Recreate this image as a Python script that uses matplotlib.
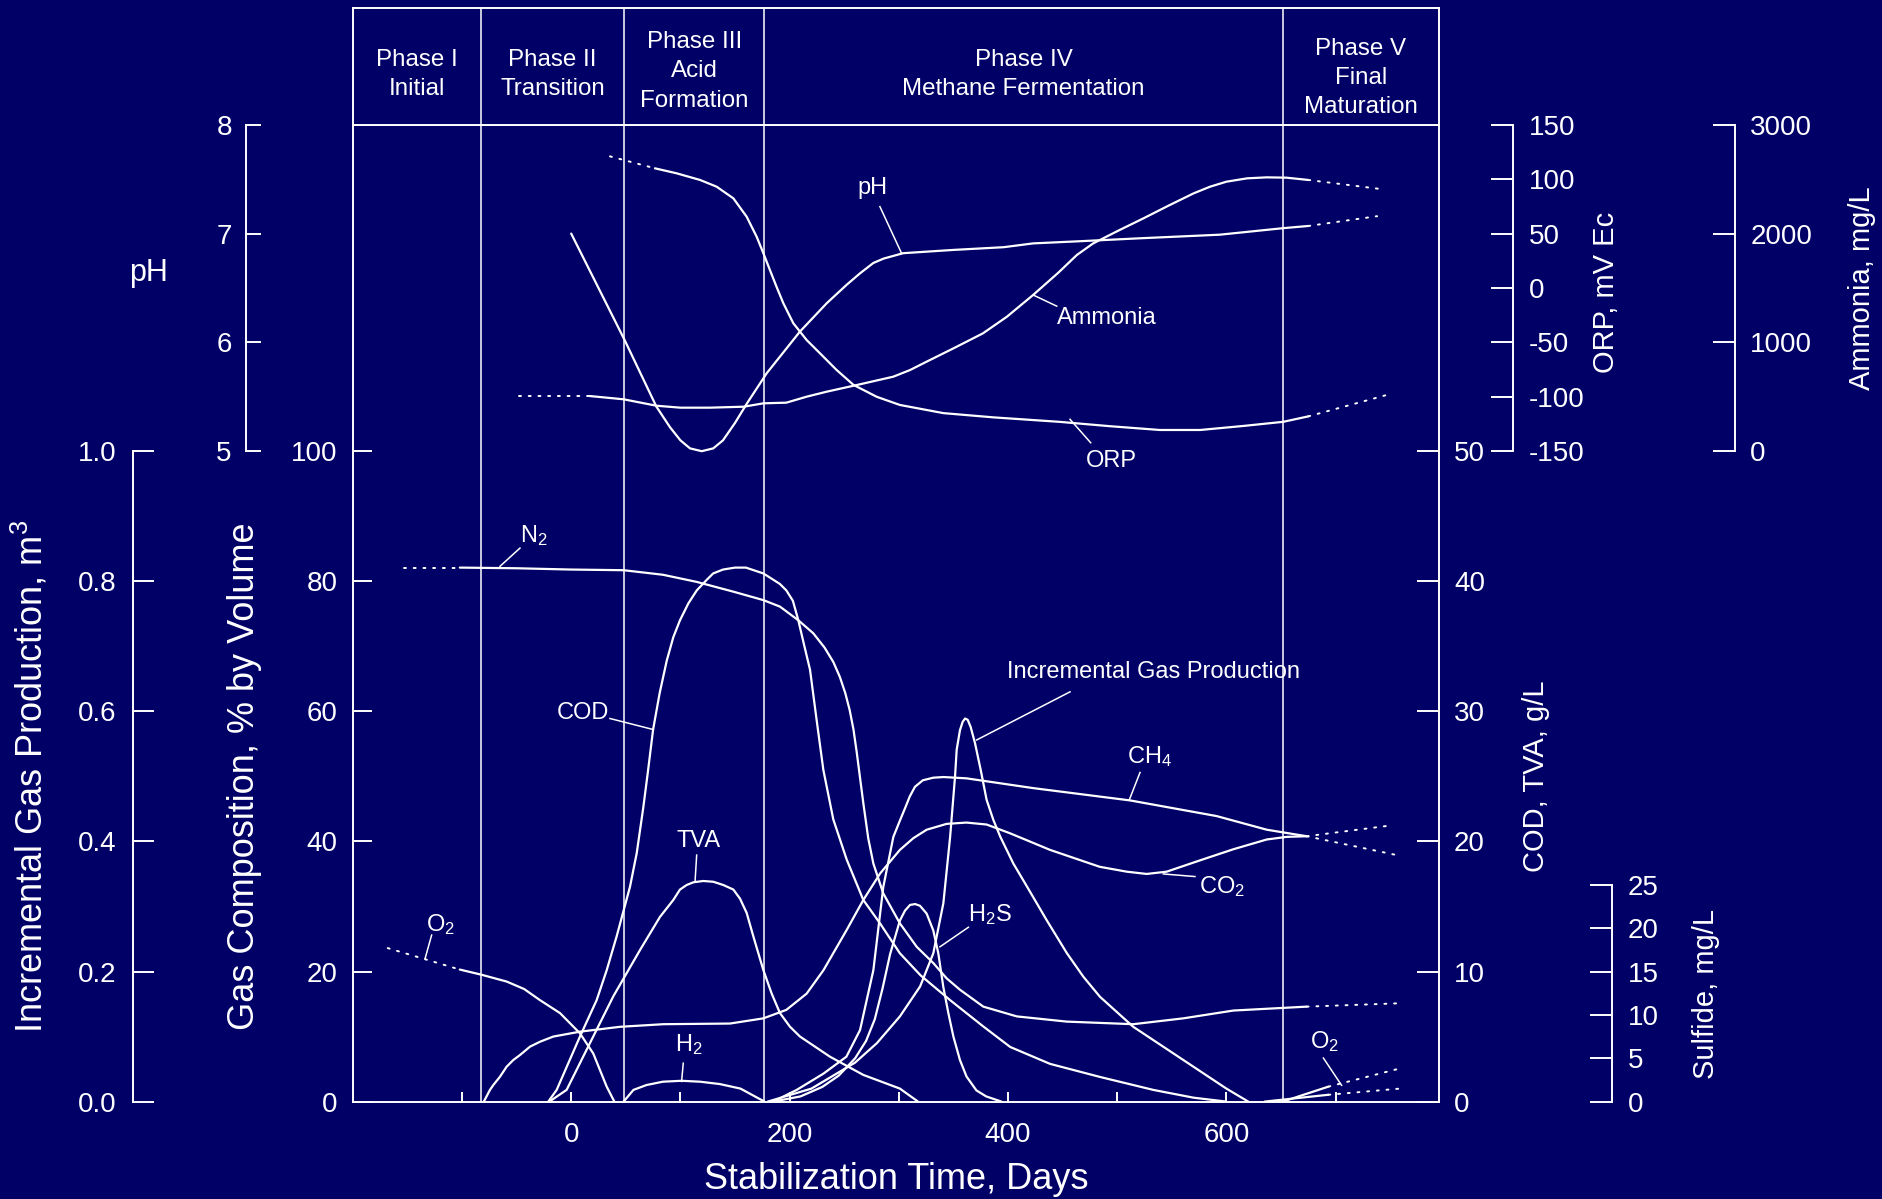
import matplotlib
matplotlib.use("Agg")
import matplotlib.pyplot as plt

plt.rcParams['font.family'] = ['Liberation Sans', 'DejaVu Sans']
plt.rcParams['mathtext.fontset'] = 'custom'
plt.rcParams['mathtext.rm'] = 'Liberation Sans'
plt.rcParams['mathtext.it'] = 'Liberation Sans:italic'
plt.rcParams['mathtext.bf'] = 'Liberation Sans:bold'
plt.rcParams['mathtext.sf'] = 'Liberation Sans'

# ---------------- data ----------------
phase_bounds = [-82.4, 48.4, 176.9, 651.6]
phase_labels = ["Phase I\nInitial", "Phase II\nTransition", "Phase III\nAcid\nFormation",
                "Phase IV\nMethane Fermentation", "Phase V\nFinal\nMaturation"]

x_ticks = [-100, 0, 100, 200, 300, 400, 500, 600, 700]
x_ticklabels = ["", "0", "", "200", "", "400", "", "600", ""]

gas_ticks = [0, 20, 40, 60, 80, 100]
incgas_ticks = [0.0, 0.2, 0.4, 0.6, 0.8, 1.0]
ph_ticks = [5, 6, 7, 8]
cod_ticks = [0, 10, 20, 30, 40, 50]
orp_ticks = [-150, -100, -50, 0, 50, 100, 150]
amm_ticks = [0, 1000, 2000, 3000]
sulf_ticks = [0, 5, 10, 15, 20, 25]

# pH (pH units)
ph_days = [0, 49, 78, 90.5, 100, 108.8, 119.5, 130.1, 139, 150, 161, 179, 209.5, 234, 252.3,
           264.5, 276.7, 286, 304, 350, 396, 423, 466, 521, 594, 652, 675]
ph_vals = [7.0, 6.02, 5.41, 5.22, 5.10, 5.026, 5.0, 5.026, 5.10, 5.26, 5.44, 5.716, 6.10, 6.36,
           6.53, 6.635, 6.73, 6.77, 6.82, 6.85, 6.875, 6.91, 6.93, 6.957, 6.99, 7.05, 7.07]
ph_ext_days = [675, 738]
ph_ext_vals = [7.07, 7.16]

# Ammonia (mg/L)
amm_pre_days = [-48, 17]
amm_pre_vals = [507, 507]
amm_days = [17, 48, 78, 100, 127, 158, 176, 197, 215.6, 234, 264.5, 295, 310.3, 325.5, 350, 377,
            399, 423, 446, 463, 478, 501, 524, 547, 570, 585, 600, 619, 637, 655, 675]
amm_vals = [507, 477, 418, 400, 400, 409, 440, 446, 501, 547, 615, 685, 746, 823, 945, 1083,
            1236, 1436, 1640, 1803, 1910, 2027, 2140, 2257, 2370, 2431, 2477, 2508, 2517, 2514,
            2493]
amm_ext_days = [675, 741]
amm_ext_vals = [2493, 2410]

# ORP (mV)
orp_pre_days = [35.5, 76.7]
orp_pre_vals = [121, 110]
orp_days = [76.7, 96.6, 118, 133.2, 148.5, 160.7, 169.8, 176, 182, 188, 194.3, 203.4, 215.6,
            227.8, 243, 258.4, 279.8, 301, 340.8, 386.6, 447, 493, 539, 576, 615.5, 652, 675]
orp_vals = [110, 105.4, 99.3, 93.1, 82.4, 65.5, 47.2, 31.9, 16.5, 1.2, -14.1, -32.4, -47.8,
            -60, -75.3, -89, -100, -107.5, -115, -118.9, -123, -127, -130.5, -130.5, -126.8,
            -123, -118]
orp_ext_days = [675, 748]
orp_ext_vals = [-118, -98]

# N2 (% by volume)
n2_pre_days = [-153, -102]
n2_pre_vals = [82.1, 82.1]
n2_days = [-102, -50, 0, 48, 84, 115, 148.5, 176, 191.2, 208, 221.7, 232, 240, 246, 251, 255,
           258.5, 261.4, 267.5, 272, 276.7, 285.8, 301, 316.4, 331.6, 343.8, 356, 377.4, 408,
           453.7, 514.7, 560.5, 606.4, 673.5]
n2_vals = [82.1, 82.0, 81.8, 81.7, 81.0, 79.9, 78.4, 77.1, 76.1, 74.0, 72.0, 69.8, 67.6, 65.3,
           62.8, 60.2, 57.2, 53.8, 45.9, 40.5, 36.6, 32.0, 27.4, 23.8, 21.3, 18.95, 17.2, 14.6,
           13.1, 12.3, 11.9, 12.8, 14.0, 14.6]
n2_ext_days = [673.5, 756]
n2_ext_vals = [14.6, 15.1]

# O2 (% by volume), early
o2_pre_days = [-168, -102]
o2_pre_vals = [23.6, 20.3]
o2_days = [-102, -82, -59, -43, -28.6, -10.2, 8, 20.2, 32.5, 39.5]
o2_vals = [20.3, 19.5, 18.45, 17.3, 15.6, 13.6, 10.5, 7.4, 2.3, 0]

# O2 (% by volume), Phase V, and the second Phase V trace
o2b_days = [651.6, 693.4]
o2b_vals = [0.0, 2.3]
o2b_ext_days = [693.4, 759]
o2b_ext_vals = [2.3, 5.1]
trace_v_days = [635, 693.4]
trace_v_vals = [0.0, 1.05]
trace_v_ext_days = [693.4, 759]
trace_v_ext_vals = [1.05, 2.0]

# CO2 (% by volume)
co2_days = [-80, -74.4, -71.3, -65.2, -59.1, -53, -46.9, -37.7, -28.6, -16.4, 8, 44.7, 84.4,
            145.4, 176, 197, 215.6, 231, 252.3, 267.5, 283, 301, 313.3, 325.5, 343.8, 362,
            380.4, 401.9, 438.5, 484, 508.7, 527, 545.3, 576, 606.4, 637, 655.2, 673.5]
co2_vals = [0, 1.8, 2.55, 3.83, 5.37, 6.4, 7.16, 8.45, 9.2, 10.0, 10.75, 11.5, 11.9, 12.0, 12.8,
            14.1, 16.6, 20.2, 26.4, 31.0, 35.1, 38.7, 40.5, 41.8, 42.7, 42.9, 42.6, 41.25,
            38.7, 36.1, 35.35, 35.0, 35.35, 37.1, 38.8, 40.3, 40.7, 40.8]
co2_ext_days = [673.5, 748]
co2_ext_vals = [40.8, 42.4]

# CH4 (% by volume)
ch4_days = [185, 206.5, 231, 252, 264.5, 276.7, 285.8, 295, 301, 305.7, 310, 314.8, 322, 331.6,
            341, 362, 423, 512, 591, 637, 673.5]
ch4_vals = [0, 1.8, 4.3, 6.9, 11.0, 20.2, 33.0, 40.7, 43.2, 45.1, 46.9, 48.4, 49.4, 49.8, 49.9,
            49.7, 48.2, 46.3, 43.9, 41.8, 40.8]
ch4_ext_days = [673.5, 756]
ch4_ext_vals = [40.8, 37.9]

# H2 (% by volume)
h2_days = [48, 52, 57, 69, 84, 101, 118, 136, 155, 166, 177]
h2_vals = [0, 0.8, 1.8, 2.55, 3.06, 3.2, 3.06, 2.7, 2.0, 1.0, 0]

# COD (g/L)
cod_days = [-21, -13.3, 8, 23.3, 32.5, 41.6, 53.8, 60, 66, 70, 75, 81, 87.5, 93.5, 99.6, 107.3,
            115, 124, 130, 139, 150, 160, 176, 191, 197, 203, 208, 213, 218.7, 224.8, 230.9,
            240, 252.3, 267.5, 282.8, 301, 320, 347, 377, 402, 438.5, 484, 533, 570, 600]
cod_vals = [0, 0.9, 5.0, 7.8, 10.1, 12.7, 16.5, 19.1, 22.6, 25.2, 28.6, 31.4, 33.9, 35.7, 37.0,
            38.3, 39.3, 40.1, 40.6, 40.9, 41.05, 41.05, 40.6, 39.8, 39.3, 38.5, 37.0, 35.2, 33.2,
            29.3, 25.5, 21.7, 18.6, 15.5, 13.7, 11.4, 9.7, 7.8, 5.8, 4.2, 2.9, 1.9, 0.9, 0.3, 0]

# TVA (g/L)
tva_days = [-20, -4.2, 14.2, 38.6, 63, 81.3, 93.5, 99.6, 105.7, 111.9, 121, 130.1, 139.3, 148.5,
            154.6, 160.7, 166.8, 176, 183.6, 191.2, 200.3, 209.5, 237, 267.5, 301, 317.6]
tva_vals = [0, 0.9, 4.0, 8.1, 11.65, 14.2, 15.5, 16.3, 16.65, 16.86, 16.96, 16.9, 16.65, 16.3,
            15.6, 14.5, 12.7, 10.1, 8.3, 6.8, 5.76, 5.0, 3.45, 2.05, 1.0, 0]

# Incremental gas production (m3)
inc_days = [180, 220, 260, 280, 301, 319.5, 331.6, 340.8, 347, 351.5, 353, 356, 358.5, 360.7,
            363.1, 365.8, 369.8, 375, 380.4, 386.6, 393, 404.9, 417.6, 435.4, 454, 469, 484.3,
            514.7, 560.5, 600, 620]
inc_vals = [0, 0.02, 0.06, 0.09, 0.131, 0.177, 0.228, 0.305, 0.407, 0.5, 0.541, 0.571, 0.584,
            0.589, 0.587, 0.576, 0.551, 0.51, 0.464, 0.433, 0.407, 0.366, 0.33, 0.279, 0.228,
            0.192, 0.161, 0.115, 0.064, 0.02, 0]

# Sulfide / H2S (mg/L)
h2s_days = [185, 210, 230, 245, 260, 270, 278, 285, 292, 301, 305.7, 310.3, 315, 319.4, 325.5,
            331.6, 336.2, 340.8, 345.4, 350, 356, 362, 371, 380, 394]
h2s_vals = [0, 0.6, 1.7, 3.0, 5.0, 7.0, 9.5, 13.0, 17.0, 20.9, 22.05, 22.7, 22.8, 22.6, 21.7,
            19.75, 17.1, 13.2, 10.2, 7.5, 4.8, 2.9, 1.3, 0.6, 0]

# ---------------- layout ----------------
BG = '#000066'
FG = 'white'
W, H = 1882, 1199
L, R, B, T, HT = 352.8, 1438.8, 1101.6, 124.8, 8.4
XMIN, XMAX = -200, 794.5
LW = 1.6
SPW = 1.4
TICK_FS = 20
DOT = (0, (1, 4))

fig = plt.figure(figsize=(W / 100, H / 100), dpi=100, facecolor=BG)
rect = [L / W, 1 - B / H, (R - L) / W, (B - T) / H]

ax = fig.add_axes(rect)
ax.set_facecolor(BG)
ax.set_xlim(XMIN, XMAX)
ax.set_ylim(0, 150.18)
for s in ax.spines.values():
    s.set_color(FG)
    s.set_linewidth(SPW)
ax.set_xticks(x_ticks)
ax.set_xticklabels(x_ticklabels)
ax.set_yticks(gas_ticks)
ax.set_yticklabels([str(t) for t in gas_ticks])
ax.tick_params(axis='x', direction='in', length=7, width=SPW, colors=FG, labelsize=TICK_FS,
               pad=15, top=False)
ax.tick_params(axis='y', direction='in', length=14, width=SPW, colors=FG, labelsize=TICK_FS,
               pad=11, right=False)


def scale_axes(ylim, side, pos, bounds, ticks, labels, pad, length=16, spine=True):
    a = fig.add_axes(rect, sharex=ax)
    a.patch.set_visible(False)
    a.set_ylim(*ylim)
    for s in a.spines.values():
        s.set_visible(False)
    if spine:
        sp = a.spines[side]
        sp.set_visible(True)
        sp.set_position(('axes', pos))
        sp.set_bounds(*bounds)
        sp.set_color(FG)
        sp.set_linewidth(SPW)
    a.yaxis.set_ticks_position(side)
    a.set_yticks(ticks)
    a.set_yticklabels(labels)
    a.tick_params(axis='y', direction='in', length=length, width=SPW, colors=FG,
                  labelsize=TICK_FS, pad=pad)
    a.tick_params(axis='x', which='both', bottom=False, top=False, labelbottom=False,
                  labeltop=False)
    return a


ax_inc = scale_axes((0, 1.5018), 'left', -0.2024, (0, 1.0), incgas_ticks,
                    ["%.1f" % t for t in incgas_ticks], pad=12, length=15)
ax_ph = scale_axes((-0.978, 8), 'left', -0.09797, (5, 8), ph_ticks,
                   [str(t) for t in ph_ticks], pad=10.5, length=11)
ax_cod = scale_axes((0, 75.09), 'right', 1.0, (0, 75.09), cod_ticks,
                    [str(t) for t in cod_ticks], pad=11, length=16, spine=False)
ax_orp = scale_axes((-747.8, 150), 'right', 1.0686, (-150, 150), orp_ticks,
                    [str(t) for t in orp_ticks], pad=11, length=16)
ax_amm = scale_axes((-5978, 3000), 'right', 1.27274, (0, 3000), amm_ticks,
                    [str(t) for t in amm_ticks], pad=11, length=16)
ax_sulf = scale_axes((0, 112.74), 'right', 1.15921, (0, 25), sulf_ticks,
                     [str(t) for t in sulf_ticks], pad=11.5, length=16)

# header
hax = fig.add_axes([L / W, 1 - T / H, (R - L) / W, (T - HT) / H], sharex=ax)
hax.set_facecolor(BG)
hax.set_ylim(0, 1)
for s in hax.spines.values():
    s.set_color(FG)
    s.set_linewidth(SPW)
hax.tick_params(axis='both', which='both', left=False, right=False, bottom=False, top=False,
                labelleft=False, labelbottom=False)

edges = [XMIN] + phase_bounds + [XMAX]
label_y = [0.431, 0.431, 0.4585, 0.431, 0.402]
for i, txt in enumerate(phase_labels):
    c = 0.5 * (edges[i] + edges[i + 1])
    hax.text(c, label_y[i], txt, ha='center', va='center', color=FG, fontsize=17.4,
             linespacing=1.44)
for b in phase_bounds:
    hax.axvline(b, color=FG, lw=1.1)
    ax.axvline(b, color=FG, lw=1.1)

# ---------------- curves ----------------
kw = dict(color=FG, lw=LW, solid_capstyle='round', solid_joinstyle='round')
dk = dict(color=FG, lw=1.4, linestyle=DOT, dash_capstyle='round')

ax_ph.plot(ph_days, ph_vals, **kw)
ax_ph.plot(ph_ext_days, ph_ext_vals, **dk)
ax_amm.plot(amm_pre_days, amm_pre_vals, **dk)
ax_amm.plot(amm_days, amm_vals, **kw)
ax_amm.plot(amm_ext_days, amm_ext_vals, **dk)
ax_orp.plot(orp_pre_days, orp_pre_vals, **dk)
ax_orp.plot(orp_days, orp_vals, **kw)
ax_orp.plot(orp_ext_days, orp_ext_vals, **dk)

ax.plot(n2_pre_days, n2_pre_vals, **dk)
ax.plot(n2_days, n2_vals, **kw)
ax.plot(n2_ext_days, n2_ext_vals, **dk)
ax.plot(o2_pre_days, o2_pre_vals, **dk)
ax.plot(o2_days, o2_vals, **kw)
ax.plot(o2b_days, o2b_vals, **kw)
ax.plot(o2b_ext_days, o2b_ext_vals, **dk)
ax.plot(trace_v_days, trace_v_vals, **kw)
ax.plot(trace_v_ext_days, trace_v_ext_vals, **dk)
ax.plot(co2_days, co2_vals, **kw)
ax.plot(co2_ext_days, co2_ext_vals, **dk)
ax.plot(ch4_days, ch4_vals, **kw)
ax.plot(ch4_ext_days, ch4_ext_vals, **dk)
ax.plot(h2_days, h2_vals, **kw)
ax_cod.plot(cod_days, cod_vals, **kw)
ax_cod.plot(tva_days, tva_vals, **kw)
ax_inc.plot(inc_days, inc_vals, **kw)
ax_sulf.plot(h2s_days, h2s_vals, **kw)

# ---------------- curve labels (day, % position on gas axis) ----------------
LAB_FS = 17
labels = [
    ("pH", (275.8, 140.4), (282.7, 137.6), (302.6, 130.4)),
    ("Ammonia", (490.1, 120.5), (423.2, 124.0), (444.6, 122.3)),
    ("ORP", (494.5, 98.5), (456.8, 104.9), (475.7, 101.3)),
    ("N$_2$", (-34.5, 87.1), (-46.9, 85.1), (-65.2, 82.3)),
    ("COD", (11.0, 59.7), (35.5, 58.9), (75.2, 57.2)),
    ("TVA", (116.5, 40.0), (114.9, 37.9), (113.4, 33.8)),
    ("O$_2$", (-120.1, 27.2), (-127.8, 25.6), (-133.8, 22.0)),
    ("H$_2$", (107.3, 8.7), (102.6, 5.9), (101.1, 3.1)),
    ("Incremental Gas Production", (533.0, 66.1), (456.8, 63.0), (371.3, 55.6)),
    ("CH$_4$", (529.7, 53.0), (520.9, 50.6), (511.1, 46.4)),
    ("CO$_2$", (595.6, 33.0), (542.2, 35.0), (571.2, 34.6)),
    ("H$_2$S", (383.5, 28.7), (363.7, 26.8), (337.7, 23.8)),
    ("O$_2$", (690.1, 9.2), (688.8, 6.7), (705.5, 2.5)),
]
for txt, tpos, p0, p1 in labels:
    ax.text(tpos[0], tpos[1], txt, ha='center', va='center', color=FG, fontsize=LAB_FS)
    ax.plot([p0[0], p1[0]], [p0[1], p1[1]], color=FG, lw=1.1)

# ---------------- axis titles ----------------
AX_FS = 26
fig.text(30 / W, 1 - 776 / H, "Incremental Gas Production, m$^3$", rotation=90, ha='center',
         va='center', color=FG, fontsize=AX_FS)
fig.text(244.5 / W, 1 - 776 / H, "Gas Composition, % by Volume", rotation=90, ha='center',
         va='center', color=FG, fontsize=AX_FS)
fig.text(149 / W, 1 - 273 / H, "pH", ha='center', va='center', color=FG, fontsize=22)
fig.text(1535.6 / W, 1 - 776 / H, "COD, TVA, g/L", rotation=90, ha='center', va='center',
         color=FG, fontsize=21)
fig.text(1606 / W, 1 - 292 / H, "ORP, mV Ec", rotation=90, ha='center', va='center',
         color=FG, fontsize=21)
fig.text(1862 / W, 1 - 288 / H, "Ammonia, mg/L", rotation=90, ha='center', va='center',
         color=FG, fontsize=21)
fig.text(1706 / W, 1 - 994 / H, "Sulfide, mg/L", rotation=90, ha='center', va='center',
         color=FG, fontsize=21)
fig.text(895.8 / W, 1 - 1179.6 / H, "Stabilization Time, Days", ha='center', va='center',
         color=FG, fontsize=AX_FS)

fig.savefig("out.png", dpi=100, facecolor=BG)
